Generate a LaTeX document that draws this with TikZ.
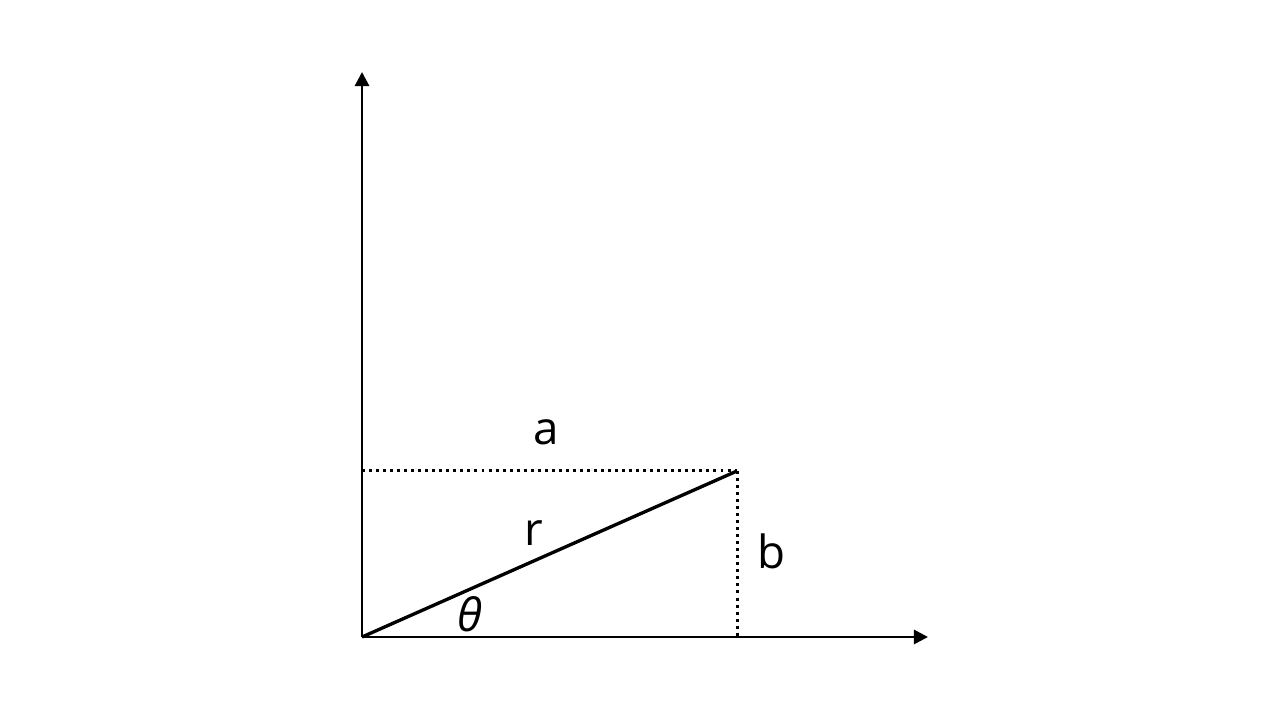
\documentclass[tikz,border=0pt]{standalone}
\usepackage{fontspec}
\setmainfont{Open Sans}
\usetikzlibrary{arrows.meta}

\begin{document}
\begin{tikzpicture}[>={Triangle[length=4pt, width=4pt]}]
  \useasboundingbox (0,0) rectangle (12.8,7.2);
  \tikzset{
    axis/.style={line width=0.78pt, ->},
    guide/.style={line width=0.85pt, dash pattern=on 0.85pt off 1.15pt},
    lbl/.style={font=\fontsize{13}{15}\selectfont, inner sep=0pt}
  }
  % Axes
  \coordinate (O) at (3.62,0.83);
  \coordinate (xend) at (9.28,0.83);
  \coordinate (yend) at (3.62,6.48);
  \draw[axis] (O) -- (xend);
  \draw[axis] (O) -- (yend);

  % Point and its projections
  \coordinate (P) at (7.37,2.49);
  \coordinate (Px) at (7.37,0.83);
  \coordinate (Py) at (3.62,2.49);
  \draw[guide] (Py) -- (P);
  \draw[guide] (P) -- (Px);

  % Radius
  \draw[line width=0.95pt] (O) -- (P);

  % Labels
  \node[lbl] (la) at (5.46,2.88) {a};
  \node[lbl] (lb) at (7.71,1.69) {b};
  \node[lbl] (lr) at (5.34,1.87) {r};
  \node[lbl] (lt) at (4.70,1.06) {\itshape θ};
\end{tikzpicture}
\end{document}
